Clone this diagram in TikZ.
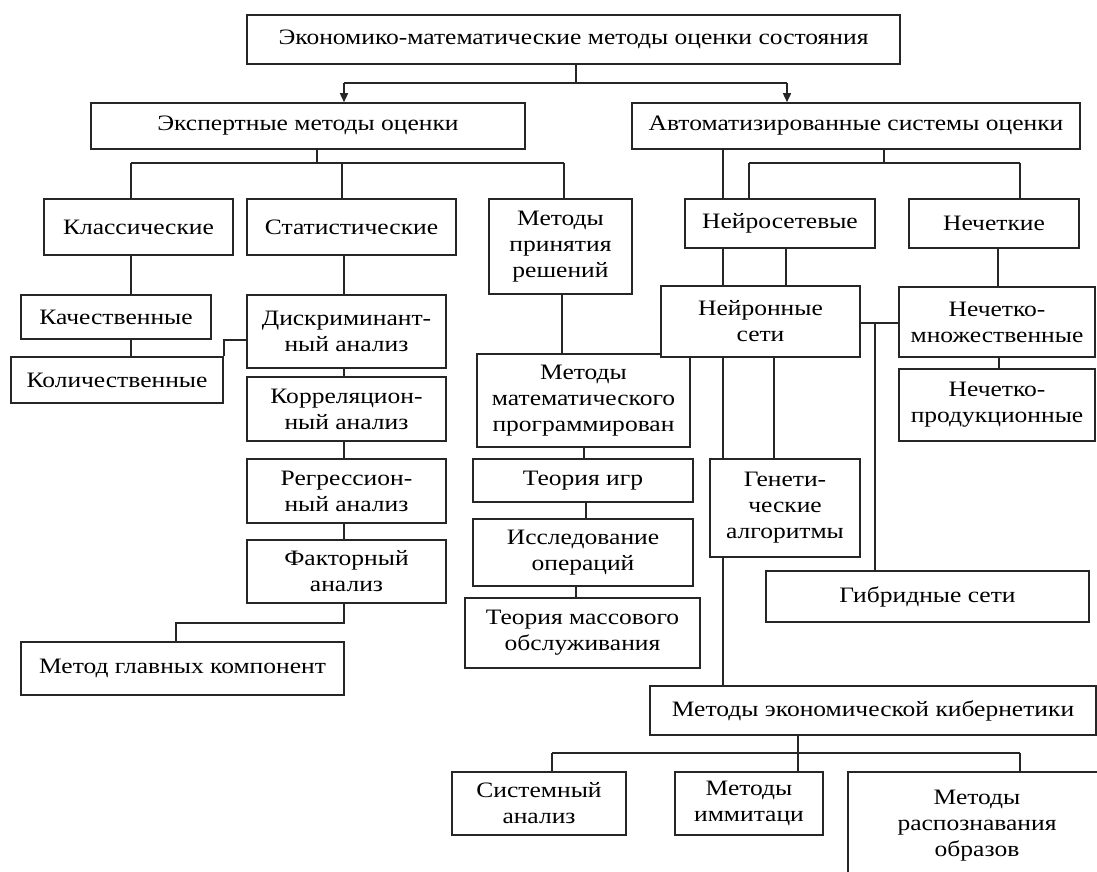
\documentclass[tikz,border=0pt]{standalone}
\usepackage{fontspec}
\setmainfont[FakeStretch=1.16]{Liberation Serif}
\usetikzlibrary{arrows.meta}
\pgfdeclarelayer{bg}
\pgfsetlayers{bg,main}
\tikzset{
  box/.style={draw=black!85, line width=1.6pt, fill=white, align=center, inner sep=0pt,
    font=\fontsize{22}{26}\selectfont},
  conn/.style={draw=black!85, line width=1.6pt},
  arr/.style={conn, -{Triangle[length=9pt,width=8pt]}},
}
\newcommand{\bx}[7]{% name, x1, x2, y1, y2, text, extra
  \node[box, minimum width={(#3-#2)*1pt}, minimum height={(#5-#4)*1pt}, #7] (#1) at ({(#2+#3)/2},{(#4+#5)/2}) {#6};}
\begin{document}
\begin{tikzpicture}[x=1pt,y=-1pt]
\clip (0,0) rectangle (1097,872);
% boxes
\bx{top}{247}{900}{15}{64}{Экономико-математические методы оценки состояния}{}
\bx{expert}{91}{525}{103}{149}{Экспертные методы оценки}{}
\bx{auto}{632}{1080}{103}{149}{Автоматизированные системы оценки}{}
\bx{classic}{44}{233}{199}{255}{Классические}{}
\bx{stat}{247}{456}{199}{255}{Статистические}{}
\bx{decision}{489}{632}{199}{294}{Методы\\принятия\\решений}{}
\bx{neuro}{685}{875}{199}{248}{Нейросетевые}{}
\bx{fuzzy}{909}{1079}{199}{248}{Нечеткие}{}
\bx{kach}{21}{211}{295}{339}{Качественные}{}
\bx{kolich}{11}{223}{357}{403}{Количественные}{}
\bx{diskr}{247}{446}{295}{368}{Дискриминант-\\ный анализ}{}
\bx{korrel}{247}{446}{377}{441}{Корреляцион-\\ный анализ}{}
\bx{regress}{247}{446}{459}{523}{Регрессион-\\ный анализ}{}
\bx{faktor}{247}{446}{540}{603}{Факторный\\анализ}{}
\bx{glav}{21}{344}{642}{695}{Метод главных компонент}{}
\bx{matprog}{477}{690}{354}{447}{Методы\\математического\\программирован}{}
\bx{igr}{473}{693}{459}{502}{Теория игр}{}
\bx{issled}{473}{693}{519}{586}{Исследование\\операций}{}
\bx{mass}{465}{700}{598}{668}{Теория массового\\обслуживания}{}
\bx{neuron}{661}{860}{286}{357}{Нейронные\\сети}{}
\bx{fmnozh}{899}{1095}{287}{357}{Нечетко-\\множественные}{}
\bx{fprod}{899}{1095}{369}{441}{Нечетко-\\продукционные}{}
\bx{genet}{710}{860}{459}{557}{Генети-\\ческие\\алгоритмы}{}
\bx{gibrid}{766}{1089}{571}{622}{Гибридные сети}{}
\bx{kib}{650}{1096}{686}{735}{Методы экономической кибернетики}{}
\bx{sist}{452}{626}{772}{835}{Системный\\анализ}{}
\bx{imit}{675}{823}{772}{835}{Методы\\иммитаци}{}
\bx{recog}{848}{1106}{772}{880}{Методы\\распознавания\\образов}{}
% junction coordinates
\coordinate (j0) at (576,83);
\coordinate (ja) at (344,83);
\coordinate (jb) at (787,83);
\coordinate (e0) at (317,163);
\coordinate (eL) at (131,163);
\coordinate (eS) at (342,163);
\coordinate (eR) at (564,163);
\coordinate (a0) at (884,163);
\coordinate (aL) at (749,163);
\coordinate (aR) at (1020,163);
\coordinate (n1) at (723,0);
\coordinate (n2) at (786,0);
\coordinate (n3) at (774,0);
\coordinate (f1) at (998,0);
\coordinate (cl) at (131,0);
\coordinate (st) at (344,0);
\coordinate (dk) at (224,340);
\coordinate (fg0) at (344,623);
\coordinate (fg1) at (176,623);
\coordinate (dm) at (562,0);
\coordinate (m1) at (584,0);
\coordinate (m2) at (586,0);
\coordinate (m3) at (576,0);
\coordinate (nh) at (875,323);
\coordinate (fp) at (999,0);
\coordinate (k0) at (798,753);
\coordinate (kL) at (552,753);
\coordinate (kR) at (1020,753);
\begin{pgfonlayer}{bg}
% top level
\draw[conn] (j0 |- top.south) -- (j0);
\draw[conn] (ja) -- (jb);
\draw[arr] (ja) -- (ja |- expert.north);
\draw[arr] (jb) -- (jb |- auto.north);
% expert children
\draw[conn] (e0 |- expert.south) -- (e0);
\draw[conn] (eL) -- (eR);
\draw[conn] (eL) -- (eL |- classic.north);
\draw[conn, line width=2.4pt] (eS) -- (eS |- stat.north);
\draw[conn] (eR) -- (eR |- decision.north);
% auto children
\draw[conn] (a0 |- auto.south) -- (a0);
\draw[conn] (aL) -- (aR);
\draw[conn] (aL) -- (aL |- neuro.north);
\draw[conn] (aR) -- (aR |- fuzzy.north);
\draw[conn] (n1 |- auto.south) -- (n1 |- neuro.north);
\draw[conn] (n1 |- neuro.south) -- (n1 |- neuron.north);
\draw[conn] (n2 |- neuro.south) -- (n2 |- neuron.north);
\draw[conn] (f1 |- fuzzy.south) -- (f1 |- fmnozh.north);
% classic branch
\draw[conn] (cl |- classic.south) -- (cl |- kach.north);
\draw[conn] (cl |- kach.south) -- (cl |- kolich.north);
% statistics branch
\draw[conn] (st |- stat.south) -- (st |- diskr.north);
\draw[conn] (st |- diskr.south) -- (st |- korrel.north);
\draw[conn] (st |- korrel.south) -- (st |- regress.north);
\draw[conn] (st |- regress.south) -- (st |- faktor.north);
\draw[conn] (dk -| diskr.west) -- (dk) -- (dk |- kolich.north);
\draw[conn] (fg0 |- faktor.south) -- (fg0) -- (fg1) -- (fg1 |- glav.north);
% decision branch
\draw[conn] (dm |- decision.south) -- (dm |- matprog.north);
\draw[conn] (m1 |- matprog.south) -- (m1 |- igr.north);
\draw[conn] (m2 |- igr.south) -- (m2 |- issled.north);
\draw[conn] (m3 |- issled.south) -- (m3 |- mass.north);
% neuron branch
\draw[conn] (n1 |- neuron.south) -- (n1 |- kib.north);
\draw[conn] (n3 |- neuron.south) -- (n3 |- genet.north);
\draw[conn] (nh -| neuron.east) -- (nh -| fmnozh.west);
\draw[conn] (nh) -- (nh |- gibrid.north);
\draw[conn] (fp |- fmnozh.south) -- (fp |- fprod.north);
% cybernetics branch
\draw[conn] (k0 |- kib.south) -- (k0);
\draw[conn] (kL) -- (kR);
\draw[conn] (kL) -- (kL |- sist.north);
\draw[conn] (k0) -- (k0 |- imit.north);
\draw[conn] (kR) -- (kR |- recog.north);
\end{pgfonlayer}
\end{tikzpicture}
\end{document}
